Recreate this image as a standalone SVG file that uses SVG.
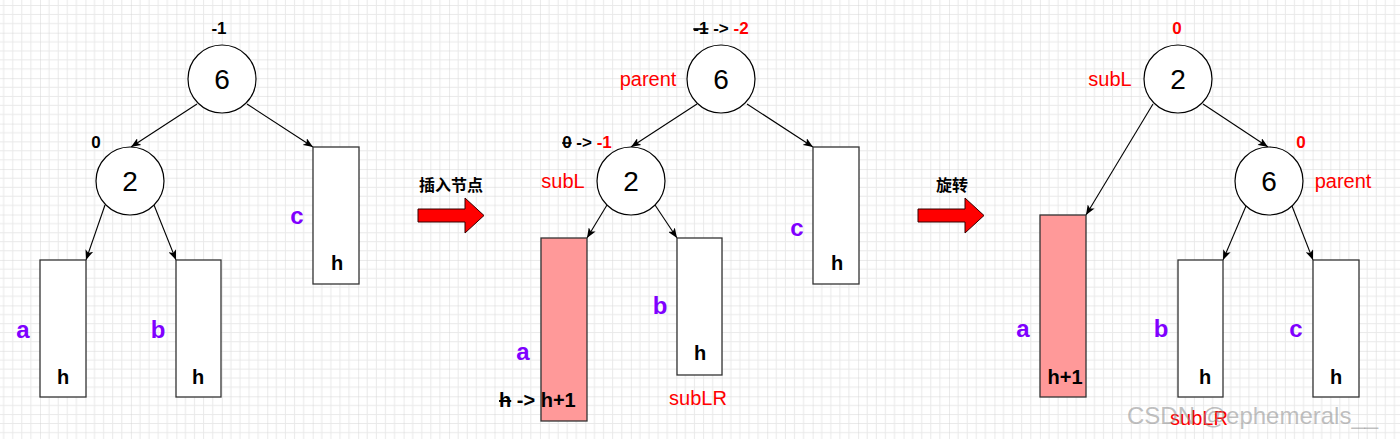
<svg xmlns="http://www.w3.org/2000/svg" width="1400" height="439" viewBox="0 0 1400 439">
<defs>
<pattern id="grid" x="40" y="32.7" width="45.45" height="45.45" patternUnits="userSpaceOnUse">
<path d="M9.09,0V45.45M18.18,0V45.45M27.27,0V45.45M36.36,0V45.45M0,9.09H45.45M0,18.18H45.45M0,27.27H45.45M0,36.36H45.45" stroke="#E9E9E9" stroke-width="1" fill="none"/>
<path d="M0,0V45.45M0,0H45.45" stroke="#D6D6D6" stroke-width="1" fill="none"/>
</pattern>
<marker id="ah" viewBox="0 0 10 8" refX="10" refY="4" markerWidth="10" markerHeight="8" markerUnits="userSpaceOnUse" orient="auto">
<path d="M0,0 L10,4 L0,8 L2.5,4 z" fill="#000"/>
</marker>
</defs>
<style>
.node circle{fill:#fff;stroke:#000;stroke-width:1.2}
.node text.v{font-family:"Liberation Sans",Arial,sans-serif;font-size:28px;text-anchor:middle;fill:#000}
.box{fill:#fff;stroke:#333;stroke-width:1.3}
.box.hl{fill:#FF9999}
.h{font-family:"Liberation Sans",Arial,sans-serif;font-size:20px;font-weight:bold;text-anchor:middle;fill:#000}
.lbl{font-family:"Liberation Sans",Arial,sans-serif;font-size:24px;font-weight:bold;text-anchor:middle;fill:#7F00FF}
.red{font-family:"Liberation Sans",Arial,sans-serif;font-size:20px;text-anchor:middle;fill:#FF0000}
.bf{font-family:"Liberation Sans",Arial,sans-serif;font-size:17px;font-weight:bold;text-anchor:middle;fill:#000}
.bf .r{fill:#FF0000}
.st{text-decoration:line-through}
.cn{font-family:"Noto Sans CJK SC",sans-serif;font-size:16px;font-weight:bold;text-anchor:middle;fill:#000}
.conn line{stroke:#000;stroke-width:1.1;marker-end:url(#ah)}
.barrow{fill:#FF0000;stroke:#330000;stroke-width:1}
</style>
<rect width="1400" height="439" fill="#fff"/>
<rect width="1400" height="439" fill="url(#grid)"/>

<g id="connectors" class="conn">
<line x1="197" y1="104" x2="131" y2="147"/>
<line x1="247" y1="104" x2="313" y2="147"/>
<line x1="105" y1="205" x2="86" y2="260"/>
<line x1="154" y1="205" x2="176" y2="260"/>
<line x1="697" y1="104" x2="631" y2="147"/>
<line x1="747" y1="104" x2="813" y2="147"/>
<line x1="607" y1="205" x2="587" y2="238"/>
<line x1="655" y1="205" x2="677" y2="238"/>
<line x1="1153" y1="104" x2="1086" y2="215"/>
<line x1="1203" y1="104" x2="1268" y2="147"/>
<line x1="1246" y1="206" x2="1223" y2="260"/>
<line x1="1292" y1="206" x2="1313" y2="260"/>
</g>

<!-- Left tree -->
<g id="L-n6" class="node"><circle cx="222" cy="79" r="34"/><text class="v" x="222" y="89">6</text></g>
<text class="bf" x="219" y="34">-1</text>
<g id="L-n2" class="node"><circle cx="130" cy="181" r="34"/><text class="v" x="130" y="191">2</text></g>
<text class="bf" x="96" y="148">0</text>
<g id="L-a"><rect class="box" x="40" y="260" width="46" height="137"/><text class="h" x="63" y="384">h</text><text class="lbl" x="23" y="338">a</text></g>
<g id="L-b"><rect class="box" x="176" y="260" width="45" height="137"/><text class="h" x="198" y="384">h</text><text class="lbl" x="158" y="338">b</text></g>
<g id="L-c"><rect class="box" x="313" y="147" width="46" height="137"/><text class="h" x="337" y="270">h</text><text class="lbl" x="297" y="224">c</text></g>

<!-- Arrow 1 -->
<g id="arrow1">
<text class="cn" x="451" y="191">插入节点</text>
<path class="barrow" d="M418,209 H465 V198 L484,215.5 L465,233 V222 H418 Z"/>
</g>

<!-- Middle tree -->
<g id="M-n6" class="node"><circle cx="721" cy="79" r="34"/><text class="v" x="721" y="89">6</text></g>
<text class="bf" x="721" y="34"><tspan class="st">-1</tspan> -&gt; <tspan class="r">-2</tspan></text>
<text class="red" x="648" y="86">parent</text>
<g id="M-n2" class="node"><circle cx="631" cy="181" r="34"/><text class="v" x="631" y="191">2</text></g>
<text class="bf" x="587" y="148"><tspan class="st">0</tspan> -&gt; <tspan class="r">-1</tspan></text>
<text class="red" x="563" y="188">subL</text>
<g id="M-a"><rect class="box hl" x="541" y="238" width="46" height="183"/><text class="lbl" x="523" y="360">a</text><text class="h" x="499" y="407" style="text-anchor:start"><tspan class="st">h</tspan> -&gt; h+1</text></g>
<g id="M-b"><rect class="box" x="677" y="238" width="45" height="137"/><text class="h" x="700" y="360">h</text><text class="lbl" x="660" y="314">b</text><text class="red" x="698" y="405">subLR</text></g>
<g id="M-c"><rect class="box" x="813" y="147" width="46" height="137"/><text class="h" x="837" y="270">h</text><text class="lbl" x="797" y="236">c</text></g>

<!-- Arrow 2 -->
<g id="arrow2">
<text class="cn" x="952" y="191">旋转</text>
<path class="barrow" d="M918,209 H965 V198 L984,215.5 L965,233 V222 H918 Z"/>
</g>

<!-- Right tree -->
<g id="R-n2" class="node"><circle cx="1178" cy="79" r="34"/><text class="v" x="1178" y="89">2</text></g>
<text class="bf" x="1177" y="34"><tspan class="r">0</tspan></text>
<text class="red" x="1110" y="86">subL</text>
<g id="R-n6" class="node"><circle cx="1269" cy="181" r="34"/><text class="v" x="1269" y="191">6</text></g>
<text class="bf" x="1301" y="148"><tspan class="r">0</tspan></text>
<text class="red" x="1343" y="188">parent</text>
<g id="R-a"><rect class="box hl" x="1040" y="215" width="46" height="182"/><text class="h" x="1065" y="384">h+1</text><text class="lbl" x="1023" y="337">a</text></g>
<g id="R-b"><rect class="box" x="1178" y="260" width="45" height="137"/><text class="h" x="1205" y="384">h</text><text class="lbl" x="1161" y="337">b</text></g>
<g id="R-c"><rect class="box" x="1313" y="260" width="46" height="137"/><text class="h" x="1336" y="384">h</text><text class="lbl" x="1296" y="337">c</text></g>
<text class="red" x="1199" y="425">subLR</text>

<text x="1127" y="424" font-family="Liberation Sans, Arial, sans-serif" font-size="24" fill="#8A8A8A" fill-opacity="0.55">CSDN @ephemerals__</text>
</svg>
